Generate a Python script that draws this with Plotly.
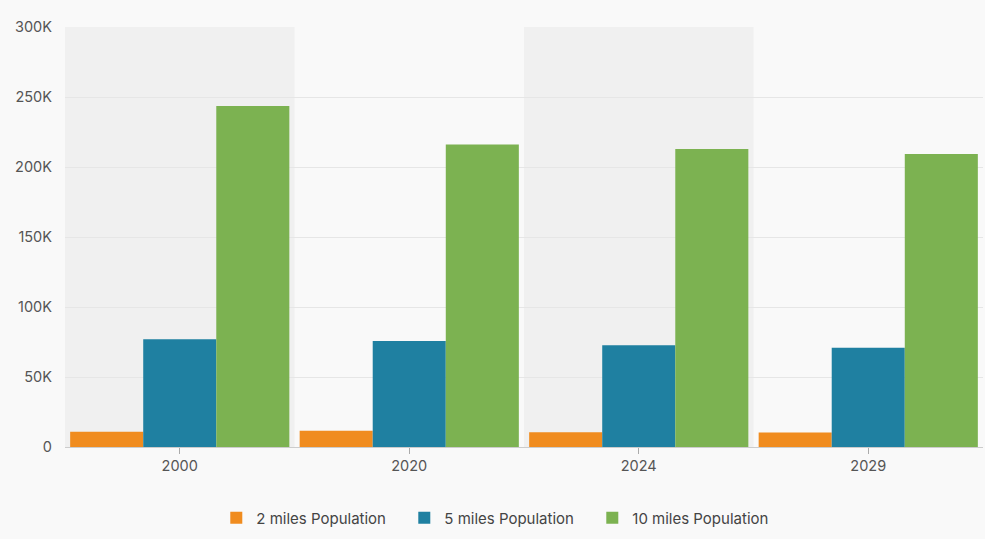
import plotly.graph_objects as go

years = ["2000", "2020", "2024", "2029"]
pop_2mi = [10900, 11600, 10600, 10400]
pop_5mi = [77000, 75700, 72600, 70900]
pop_10mi = [243500, 216100, 212800, 209200]
series_names = ["2 miles Population", "5 miles Population", "10 miles Population"]
colors = ["#F08C1F", "#1F80A1", "#7CB251"]
y_tickvals = [0, 50000, 100000, 150000, 200000, 250000, 300000]
y_ticktext = ["0", "50K", "100K", "150K", "200K", "250K", "300K"]

fig = go.Figure()
for name, vals, col in zip(series_names, [pop_2mi, pop_5mi, pop_10mi], colors):
    fig.add_trace(go.Bar(x=years, y=vals, name=name, marker=dict(color=col, line=dict(width=0))))

# alternating shaded category bands
shapes = []
for i in range(len(years)):
    if i % 2 == 0:
        shapes.append(dict(type="rect", xref="x", yref="paper", x0=i - 0.5, x1=i + 0.5,
                           y0=0, y1=1, fillcolor="#F0F0F0", line=dict(width=0), layer="below"))

fig.update_layout(
    width=985, height=539,
    paper_bgcolor="#F9F9F9", plot_bgcolor="#F9F9F9",
    font=dict(family="Inter, Roboto, sans-serif", size=14.5, color="#555555"),
    margin=dict(l=65, r=2, t=27, b=92),
    barmode="group", bargap=0.045, bargroupgap=0,
    shapes=shapes,
    showlegend=True,
    legend=dict(orientation="h", x=0.472, xanchor="center", y=-0.169, yanchor="middle",
                font=dict(size=15, color="#444444"), itemwidth=30, traceorder="normal",
                entrywidth=143, entrywidthmode="pixels"),
    xaxis=dict(showgrid=False, showline=True, linecolor="#CCCCCC", linewidth=1,
               ticks="outside", ticklen=6, tickcolor="#AAAAAA",
               tickfont=dict(size=14.5, color="#555555"), range=[-0.5, 3.5]),
    yaxis=dict(range=[0, 300000], tickvals=y_tickvals, ticktext=y_ticktext,
               showgrid=True, gridcolor="#E6E6E6", gridwidth=1, zeroline=False,
               tickfont=dict(size=14.5, color="#555555"), ticks="", ticklabelstandoff=12),
)

fig.write_html("out.html", config={"displayModeBar": False},
               post_script="document.body.style.margin='0';document.body.style.overflow='hidden';")
